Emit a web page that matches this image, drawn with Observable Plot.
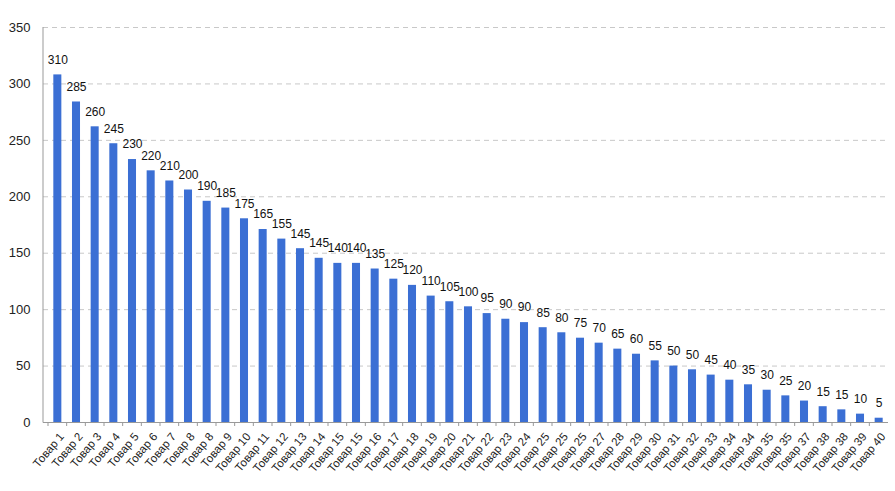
<!DOCTYPE html>
<html>
<head>
<meta charset="utf-8">
<script src="https://cdn.jsdelivr.net/npm/d3@7"></script>
<script src="https://cdn.jsdelivr.net/npm/@observablehq/plot@0.6"></script>
<style>
  html, body { margin: 0; padding: 0; background: #fff; }
  #chart { width: 895px; height: 491px; }
</style>
</head>
<body>
<div id="chart"></div>
<script>
const categories = ["Товар 1","Товар 2","Товар 3","Товар 4","Товар 5","Товар 6","Товар 7","Товар 8","Товар 8","Товар 9",
  "Товар 10","Товар 11","Товар 12","Товар 13","Товар 14","Товар 15","Товар 15","Товар 16","Товар 17","Товар 18",
  "Товар 19","Товар 20","Товар 21","Товар 22","Товар 23","Товар 24","Товар 25","Товар 25","Товар 25","Товар 27",
  "Товар 28","Товар 29","Товар 30","Товар 31","Товар 32","Товар 33","Товар 34","Товар 34","Товар 35","Товар 35",
  "Товар 37","Товар 38","Товар 38","Товар 39","Товар 40"];
const labelValues = [310,285,260,245,230,220,210,200,190,185,175,165,155,145,145,140,140,135,125,120,
  110,105,100,95,90,90,85,80,75,70,65,60,55,50,50,45,40,35,30,25,20,15,15,10,5];
const barValues = [308,284,262,247,233,223,214,206,196,190,180.5,171,162.5,154,145.5,141,141,136,127,121.5,
  112,107,102.5,96.5,91.5,88.5,84,79.5,74.7,70.3,65,60.5,54.6,50,46.7,42,37.5,33.4,28.6,23.6,19,14,11.2,7.4,3.8];
const yTicks = [0,50,100,150,200,250,300,350];

const data = categories.map((c, i) => ({key: i, name: c, label: labelValues[i], h: barValues[i]}));
const font = "'Liberation Sans', Arial, sans-serif";

const chart = Plot.plot({
  width: 895,
  height: 491,
  marginLeft: 43,
  marginRight: 7,
  marginTop: 27,
  marginBottom: 69,
  style: {fontFamily: font, background: "#fff", color: "#222"},
  x: {type: "band", domain: data.map(d => d.key), paddingInner: 0.57, paddingOuter: 0.285, round: false, insetLeft: 5},
  y: {domain: [0, 350], ticks: yTicks},
  marks: [
    Plot.gridY(yTicks.filter(t => t > 0), {stroke: "#c8c8c8", strokeOpacity: 1, strokeDasharray: "5,4"}),
    Plot.barY(data, {x: "key", y: "h", fill: "#3b6fd4"}),
    Plot.text(data, {x: "key", y: "h", text: d => String(d.label), dy: -15, fontSize: 12, fill: "#111"}),
    Plot.ruleY([0], {stroke: "#999"}),
    Plot.axisY({ticks: yTicks, tickSize: 0, tickPadding: 13, fontSize: 13, label: null}),
    Plot.axisX({tickFormat: i => categories[i], tickRotate: -50, tickSize: 0, tickPadding: 8, dx: 4, dy: 4, fontSize: 11.5, fill: "#222", label: null})
  ]
});

// axis lines and category-boundary ticks from the plot's own scales
const sx = chart.scale("x"), sy = chart.scale("y");
const svg = d3.select(chart);
const y0 = sy.apply(0), y1 = sy.apply(350);
const step = sx.step, bw = sx.bandwidth;
const axisX0 = sx.range[0] - 5;
svg.append("line").attr("x1", axisX0).attr("x2", axisX0).attr("y1", y1).attr("y2", y0 + 0.5)
  .attr("stroke", "#999");
const g = svg.append("g").attr("stroke", "#999");
data.forEach(d => {
  const xb = sx.apply(d.key) - (step - bw) / 2;
  g.append("line").attr("x1", xb).attr("x2", xb).attr("y1", y0).attr("y2", y0 + 4);
});
document.getElementById("chart").appendChild(chart);
</script>
</body>
</html>
